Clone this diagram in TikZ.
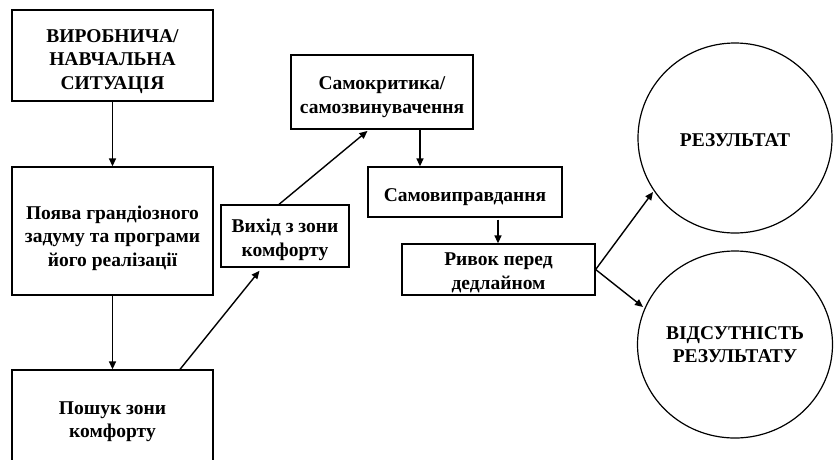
\documentclass[tikz,border=0pt]{standalone}
\usepackage{fontspec}
\setmainfont{Liberation Serif}
\newfontfamily\diagfont{Liberation Serif}
\usetikzlibrary{arrows.meta,shapes.geometric}
\begin{document}
\begin{tikzpicture}[x=1pt,y=-1pt,
  every node/.style={inner sep=0pt},
  boxnode/.style={draw, line width=1.3pt, rectangle},
  txt/.style={font=\diagfont\bfseries\fontsize{19.5}{23.5}\selectfont, align=center},
  conn/.style={line width=1.4pt, -{Triangle[length=8pt,width=7pt]}}
]
\useasboundingbox (0,0) rectangle (835,459);
\clip (0,0) rectangle (835,459);
\node[boxnode, minimum width=201pt, minimum height=91pt] (b1) at (112.5,55.5) {};
\node[boxnode, minimum width=201pt, minimum height=128pt] (b2) at (112.5,231) {};
\node[boxnode, minimum width=201pt, minimum height=100pt] (b3) at (112.5,420) {};
\node[boxnode, minimum width=128pt, minimum height=62pt] (b4) at (285,236) {};
\node[boxnode, minimum width=182pt, minimum height=74pt] (b5) at (382,92) {};
\node[boxnode, minimum width=194pt, minimum height=50pt] (b6) at (465,192) {};
\node[boxnode, minimum width=193pt, minimum height=51pt] (b7) at (498.5,269.5) {};
\node[draw, line width=1.2pt, ellipse, minimum width=194pt, minimum height=190pt] (c1) at (735,138) {};
\node[draw, line width=1.2pt, ellipse, minimum width=195pt, minimum height=187pt] (c2) at (735,344.5) {};
\node[txt] (t1) at ([yshift=-6pt]b1.center) {ВИРОБНИЧА/\\НАВЧАЛЬНА\\СИТУАЦІЯ};
\node[txt] (t2) at ([yshift=-7pt]b2.center) {Поява грандіозного\\задуму та програми\\його реалізації};
\node[txt] (t3) at ([yshift=-1.5pt]b3.center) {Пошук зони\\комфорту};
\node[txt] (t4) at ([yshift=-4pt]b4.center) {Вихід з зони\\комфорту};
\node[txt] (t5) at ([yshift=-5pt]b5.center) {Самокритика/\\самозвинувачення};
\node[txt] (t6) at ([yshift=-5pt]b6.center) {Самовиправдання};
\node[txt] (t7) at ([yshift=-3.5pt]b7.center) {Ривок перед\\дедлайном};
\node[txt] (t8) at ([yshift=-2pt]c1.center) {РЕЗУЛЬТАТ};
\node[txt] (t9) at (c2.center) {ВІДСУТНІСТЬ\\РЕЗУЛЬТАТУ};
\coordinate (c1in) at (653,192);
\coordinate (c2in) at (643,307);
\draw[conn] (b1.south) -- (b2.north);
\draw[conn] (b2.south) -- (b3.north);
\draw[conn, shorten >=4pt] (b3.north -| 180,0) -- (b4.south -| 262,0);
\draw[conn, shorten >=2pt] (b4.north -| 279,0) -- (b5.south -| 369,0);
\draw[conn] (b5.south -| 420,0) -- (b6.north -| 420,0);
\draw[conn, shorten <=2pt] (b6.south -| 498,0) -- (b7.north -| 498,0);
\draw[conn] (b7.east) -- (c1in);
\draw[conn] (b7.east) -- (c2in);
\end{tikzpicture}
\end{document}
